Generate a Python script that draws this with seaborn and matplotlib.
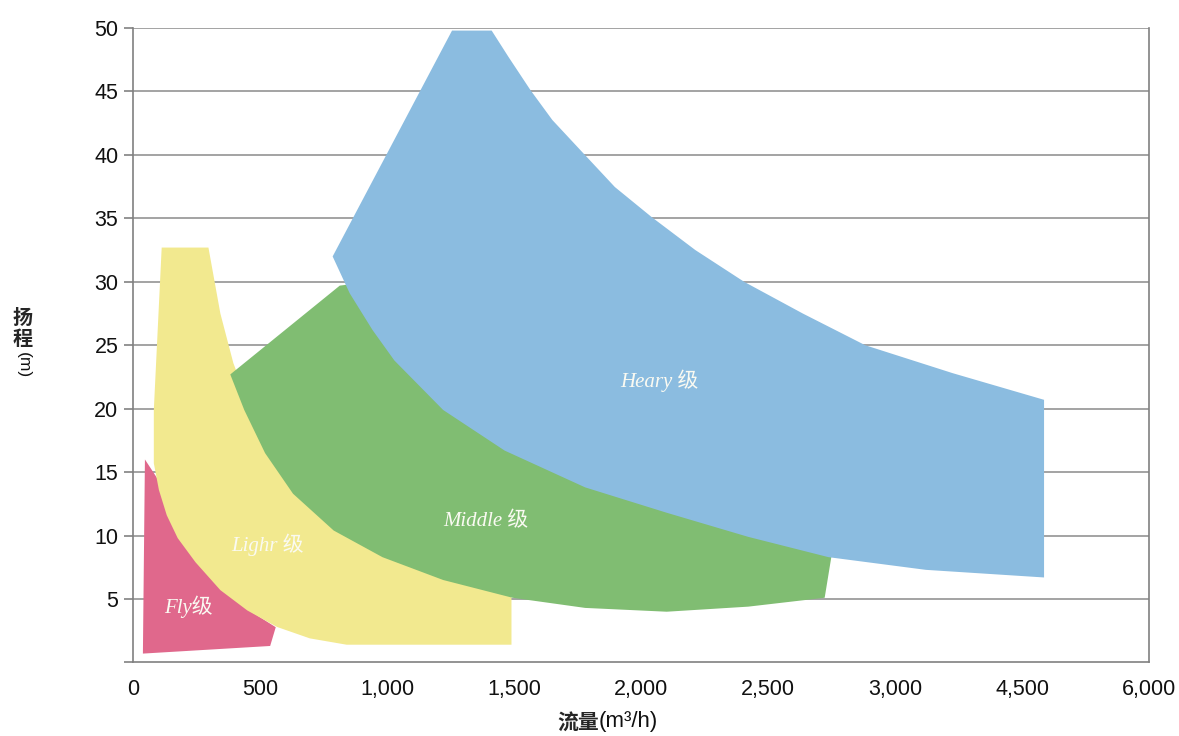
import matplotlib
matplotlib.use("Agg")
import matplotlib.pyplot as plt
import numpy as np
import seaborn as sns

# ---------------------------------------------------
# Data (flow m3/h, head m) - outlines of each pump class
# ---------------------------------------------------
FLY_Q = [39, 47, 96, 118, 150, 192, 262, 360, 466, 562, 540]
FLY_H = [0.7, 16.0, 14.5, 13.2, 11.4, 9.6, 7.7, 5.6, 4.0, 2.78, 1.3]

LIGHT_Q = [113, 297, 344, 395, 442, 735, 1127, 1490, 1490, 841, 696, 567,
           450, 344, 246, 176, 133, 102, 82, 82]
LIGHT_H = [32.7, 32.7, 27.5, 23.6, 21.1, 14.4, 8.1, 5.6, 1.4, 1.4, 1.9, 2.8,
           4.1, 5.7, 7.9, 9.8, 11.6, 13.6, 15.7, 19.9]

MIDDLE_Q = [383, 814, 970, 1831, 2754, 2723, 2422, 2101, 1780, 1494, 1221,
            982, 790, 630, 520, 438]
MIDDLE_H = [22.7, 29.7, 30.1, 18.3, 8.9, 5.1, 4.4, 4.0, 4.3, 5.1, 6.5,
            8.3, 10.4, 13.3, 16.5, 19.9]

HEAVY_Q = [786, 1256, 1412, 1479, 1565, 1651, 1772, 1897, 2042, 2214, 2406,
           2637, 2883, 3681, 4760, 4760, 3364, 2738, 2422, 2101, 1780, 1463,
           1221, 1029, 943, 853]
HEAVY_H = [32.0, 49.8, 49.8, 47.7, 45.1, 42.75, 40.15, 37.47, 35.1, 32.5, 30.0,
           27.5, 25.0, 22.8, 20.7, 6.7, 7.3, 8.3, 9.9, 11.8, 13.8, 16.7,
           19.9, 23.8, 26.2, 29.1]

CLASS_LABELS = ["Fly级", "Lighr 级", "Middle 级", "Heary 级"]
LABEL_Q = [219, 528, 1389, 2073]
LABEL_H = [4.4, 9.3, 11.1, 22.2]

X_TICKS = [0, 500, 1000, 1500, 2000, 2500, 3000, 4500, 6000]
Y_TICKS = [0, 5, 10, 15, 20, 25, 30, 35, 40, 45, 50]

COLORS = ["#E0688C", "#F2E98F", "#80BD72", "#8BBCE0"]
GRID = "#8a8a8a"


# x axis is compressed above 3000 (1500 per tick step)
def fwd(x):
    x = np.asarray(x, dtype=float)
    return np.where(x <= 3000, x, 3000 + (x - 3000) / 3.0)


def inv(u):
    u = np.asarray(u, dtype=float)
    return np.where(u <= 3000, u, 3000 + (u - 3000) * 3.0)


sns.set_theme(style="white")
plt.rcParams["font.family"] = ["Liberation Sans", "Noto Sans CJK SC", "DejaVu Sans"]

fig = plt.figure(figsize=(11.79, 7.36), dpi=100)
ax = fig.add_axes([0.1128, 0.0999, 0.8618, 0.862])
ax.set_xscale("function", functions=(fwd, inv))

# gridlines behind the areas
for y in Y_TICKS[1:]:
    ax.axhline(y, color=GRID, lw=1.1, zorder=0)

polys = [(FLY_Q, FLY_H), (LIGHT_Q, LIGHT_H), (MIDDLE_Q, MIDDLE_H), (HEAVY_Q, HEAVY_H)]
for i, (q, h) in enumerate(polys):
    ax.fill(q, h, color=COLORS[i], lw=0, zorder=1 + i)

for lab, q, h in zip(CLASS_LABELS, LABEL_Q, LABEL_H):
    ax.text(q, h, lab, ha="center", va="center", color="#FAFAF2",
            fontsize=15, style="italic",
            family=["Liberation Serif", "Noto Sans CJK SC"], zorder=10)

ax.set_xlim(0, 6000)
ax.set_ylim(0, 50)
ax.set_xticks(X_TICKS)
ax.set_xticklabels([f"{v:,}" for v in X_TICKS])
ax.set_yticks(Y_TICKS)
ax.set_yticklabels(["" if v == 0 else str(v) for v in Y_TICKS])
ax.set_xticks([0], minor=True)

ax.tick_params(axis="y", which="major", direction="out", length=6.5, width=1.1,
               color="#777777", pad=4, labelsize=15.5, labelcolor="#111111", left=True)
ax.tick_params(axis="x", which="major", length=0, pad=12, labelsize=15.5,
               labelcolor="#111111")
ax.tick_params(axis="x", which="minor", direction="out", length=5, width=1.1,
               color="#777777", bottom=True)

sns.despine(ax=ax, top=True, right=False)
for side in ["left", "right", "bottom"]:
    ax.spines[side].set_color("#808080")
    ax.spines[side].set_linewidth(1.2)

# axis titles
fig.text(599 / 1179, 1 - 722 / 736, "流量", ha="right", va="center",
         fontsize=15, fontweight="bold", family=["Noto Sans CJK SC"])
fig.text(599 / 1179, 1 - 722 / 736, "(m³/h)", ha="left", va="center",
         fontsize=16, family=["Liberation Sans", "DejaVu Sans"], color="#111111")
fig.text(23 / 1179, 1 - 328 / 736, "扬\n程", ha="center", va="center",
         fontsize=14.5, fontweight="bold", family=["Noto Sans CJK SC"],
         linespacing=1.0)
fig.text(23 / 1179, 1 - 365 / 736, "(m)", ha="center", va="center",
         fontsize=12.5, rotation=-90, family=["Liberation Sans", "DejaVu Sans"],
         color="#111111")

fig.savefig("out.png", dpi=100)
